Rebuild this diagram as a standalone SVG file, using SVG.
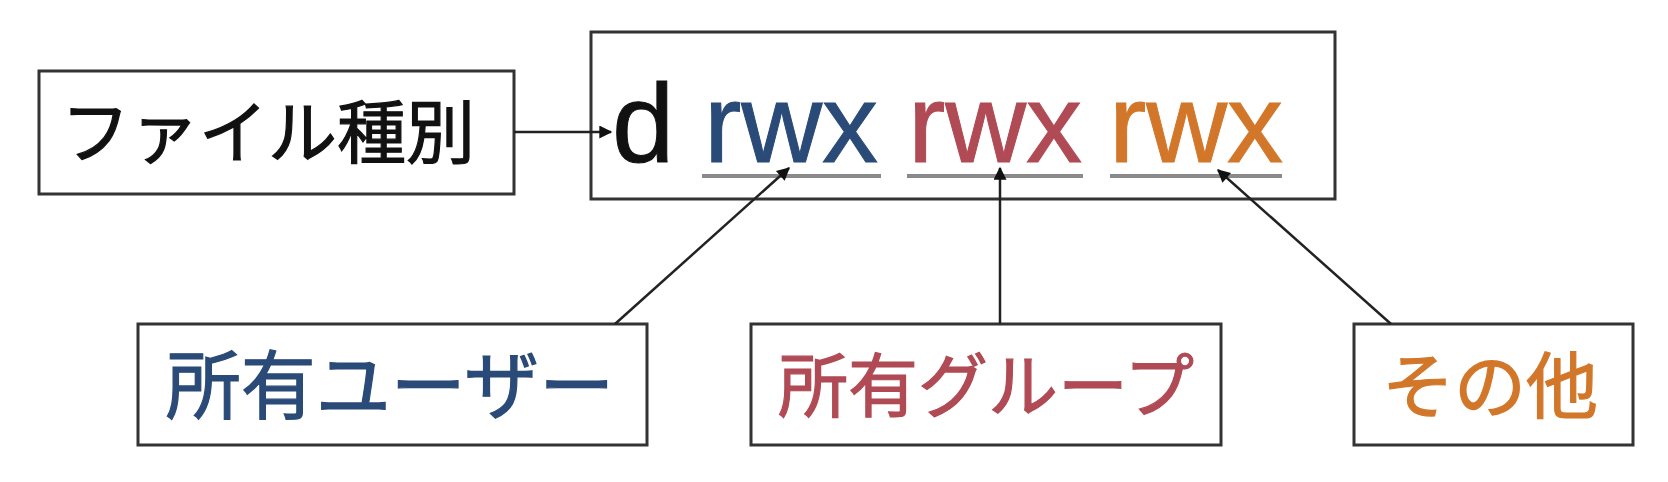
<svg xmlns="http://www.w3.org/2000/svg" width="1668" height="482" viewBox="0 0 1668 482">
<defs>
<marker id="ah" viewBox="0 0 10 10" refX="9" refY="5" markerWidth="15" markerHeight="13" orient="auto" markerUnits="userSpaceOnUse">
<path d="M0,0 L10,5 L0,10 z" fill="#111"/>
</marker>
<style>
.box{fill:#fff;stroke:#333;stroke-width:3}
.jp{font-family:"Noto Sans CJK JP","Noto Sans",sans-serif;font-size:70px;stroke-width:1.2}
.lat{font-family:"Liberation Sans",Arial,sans-serif;font-size:112px;stroke-width:1}
.ul{stroke:#8a8a8a;stroke-width:4}
.conn line{stroke:#222;stroke-width:2.5;marker-end:url(#ah)}
</style>
</defs>
<rect width="1668" height="482" fill="#fff"/>
<g id="filetype">
<rect class="box" x="39" y="71" width="475" height="123"/>
<text class="jp" x="268" y="158" text-anchor="middle" fill="#111" stroke="#111" style="font-size:69px">ファイル種別</text>
</g>
<g id="perm">
<rect class="box" x="591" y="32" width="744" height="167"/>
<text class="lat" x="612" y="162" fill="#111" stroke="#111">d</text>
<text class="lat" x="791" y="162" text-anchor="middle" fill="#2a4a78" stroke="#2a4a78">rwx</text>
<text class="lat" x="995" y="162" text-anchor="middle" fill="#b04a55" stroke="#b04a55">rwx</text>
<text class="lat" x="1196" y="162" text-anchor="middle" fill="#d2772a" stroke="#d2772a">rwx</text>
<line class="ul" x1="702" y1="176" x2="881" y2="176"/>
<line class="ul" x1="907" y1="176" x2="1083" y2="176"/>
<line class="ul" x1="1110" y1="176" x2="1282" y2="176"/>
</g>
<g id="owner">
<rect class="box" x="138" y="324" width="509" height="121"/>
<text class="jp" x="390" y="413" text-anchor="middle" fill="#2a4a78" stroke="#2a4a78" style="font-size:75px">所有ユーザー</text>
</g>
<g id="group">
<rect class="box" x="751" y="324" width="470" height="121"/>
<text class="jp" x="986" y="412" text-anchor="middle" fill="#b04a55" stroke="#b04a55">所有グループ</text>
</g>
<g id="other">
<rect class="box" x="1354" y="324" width="279" height="121"/>
<text class="jp" x="1490" y="412" text-anchor="middle" fill="#d2772a" stroke="#d2772a" style="font-size:72px">その他</text>
</g>
<g id="connectors" class="conn">
<line x1="514" y1="132" x2="611" y2="132"/>
<line x1="615" y1="324" x2="789" y2="168"/>
<line x1="1000" y1="324" x2="1000" y2="168"/>
<line x1="1391" y1="324" x2="1218" y2="170"/>
</g>
</svg>
